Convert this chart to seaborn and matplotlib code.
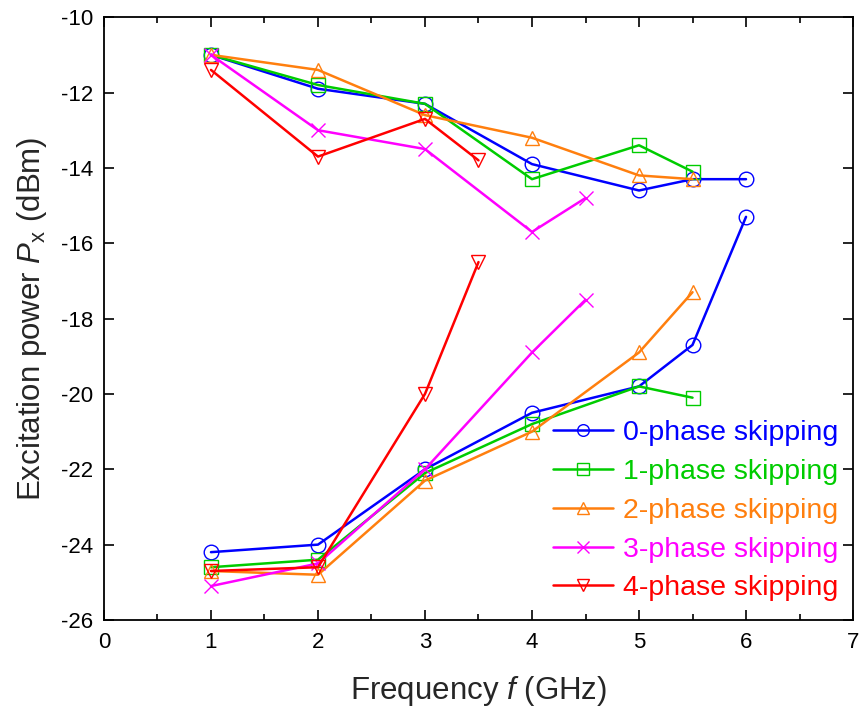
import matplotlib
matplotlib.use("Agg")
import matplotlib.pyplot as plt
import seaborn as sns
import pandas as pd
from matplotlib.ticker import MultipleLocator

sns.set_theme(style="ticks")
plt.rcParams['font.family'] = ['Liberation Sans', 'DejaVu Sans']
plt.rcParams['mathtext.fontset'] = 'custom'
plt.rcParams['mathtext.it'] = 'Liberation Sans:italic'
plt.rcParams['mathtext.rm'] = 'Liberation Sans'
plt.rcParams['axes.unicode_minus'] = False

series_names = ["0-phase skipping", "1-phase skipping", "2-phase skipping",
                "3-phase skipping", "4-phase skipping"]
colors = ["#0000FF", "#00CC00", "#FF7F0E", "#FF00FF", "#FF0000"]
markers = ["o", "s", "^", "x", "v"]

# upper branch
f_upper = [
    [1, 2, 3, 4, 5, 5.5, 6],
    [1, 2, 3, 4, 5, 5.5],
    [1, 2, 3, 4, 5, 5.5],
    [1, 2, 3, 4, 4.5],
    [1, 2, 3, 3.5],
]
p_upper = [
    [-11.0, -11.9, -12.3, -13.9, -14.6, -14.3, -14.3],
    [-11.0, -11.8, -12.3, -14.3, -13.4, -14.1],
    [-11.0, -11.4, -12.6, -13.2, -14.2, -14.3],
    [-11.0, -13.0, -13.5, -15.7, -14.8],
    [-11.4, -13.7, -12.7, -13.8],
]
# lower branch
f_lower = [
    [1, 2, 3, 4, 5, 5.5, 6],
    [1, 2, 3, 4, 5, 5.5],
    [1, 2, 3, 4, 5, 5.5],
    [1, 2, 3, 4, 4.5],
    [1, 2, 3, 3.5],
]
p_lower = [
    [-24.2, -24.0, -22.0, -20.5, -19.8, -18.7, -15.3],
    [-24.6, -24.4, -22.1, -20.8, -19.8, -20.1],
    [-24.7, -24.8, -22.3, -21.0, -18.9, -17.3],
    [-25.1, -24.5, -22.0, -18.9, -17.5],
    [-24.7, -24.6, -20.0, -16.5],
]

fig = plt.figure(figsize=(8.62, 7.10), dpi=100)
ax = fig.add_axes([0.1206, 0.1268, 0.869, 0.849])

for i, name in enumerate(series_names):
    for b, (fs, ps) in enumerate([(f_upper[i], p_upper[i]), (f_lower[i], p_lower[i])]):
        df = pd.DataFrame({"f": fs, "P": ps})
        sns.lineplot(data=df, x="f", y="P", ax=ax, sort=False, estimator=None,
                     color=colors[i], marker=markers[i], markersize=10.5,
                     mfc="none", mec=colors[i], mew=1.0, linewidth=1.8,
                     label=name if b == 0 else None, legend=(b == 0))

ax.set_xlim(0, 7)
ax.set_ylim(-26, -10)
ax.xaxis.set_major_locator(MultipleLocator(1))
ax.xaxis.set_minor_locator(MultipleLocator(0.5))
ax.yaxis.set_major_locator(MultipleLocator(2))
ax.tick_params(which="both", direction="in", top=True, right=True, colors="black",
               labelsize=16)
ax.tick_params(which="major", length=7, width=1.2)
ax.tick_params(which="minor", length=4, width=1.2)
ax.tick_params(axis="x", pad=9)
ax.tick_params(axis="y", pad=8)
for s in ax.spines.values():
    s.set_linewidth(1.3)
    s.set_color("black")

ax.set_xlabel("Frequency $\\mathit{f}$ (GHz)", fontsize=22.5, labelpad=15)
ax.set_ylabel("Excitation power $\\mathit{P}_{\\mathrm{x}}$ (dBm)", fontsize=22.5, labelpad=8)

leg = ax.legend(loc="lower right", frameon=False, fontsize=20.5, handlelength=2.1,
                numpoints=1, labelcolor="linecolor", handletextpad=0.35,
                labelspacing=0.45, borderaxespad=0.0, bbox_to_anchor=(0.995, 0.012),
                markerscale=0.8)

fig.savefig("out.png", dpi=100, facecolor="white")
